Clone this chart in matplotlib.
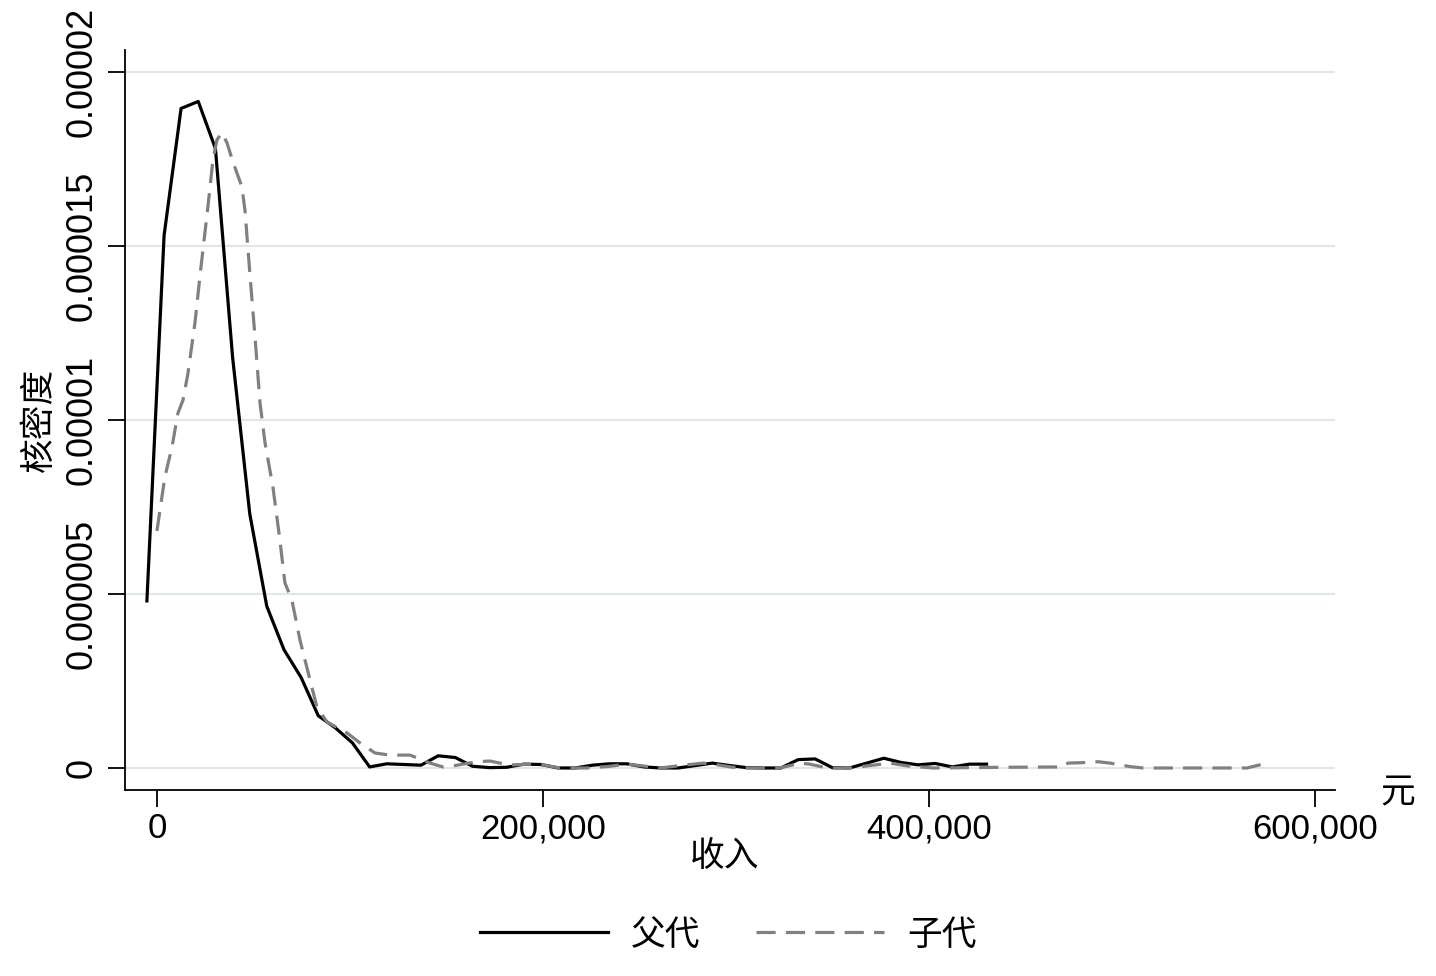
import numpy as np
import matplotlib
matplotlib.use('Agg')
import matplotlib.pyplot as plt
from matplotlib.ticker import FuncFormatter

plt.rcParams['font.family'] = ['Liberation Sans', 'Noto Sans CJK SC']

# 父代 kernel density (income in yuan, density in 1e-6)
father_x = [-5200, 3700, 12500, 21400, 30300, 39200, 48100, 56900, 65800, 74700,
            83600, 92500, 101300, 110200, 119100, 128000, 136800, 145700, 154600, 163500,
            172400, 181200, 190100, 199000, 207900, 216700, 225600, 234500, 243400, 252300,
            261100, 270000, 278900, 287800, 296700, 305500, 314400, 323300, 332200, 341000,
            349900, 358800, 367700, 376600, 385400, 394300, 403200, 412100, 420900, 429800]
father_y = [4.80, 15.3, 18.95, 19.15, 17.8, 11.8, 7.3, 4.65, 3.4, 2.6,
            1.5, 1.15, 0.72, 0.03, 0.12, 0.10, 0.08, 0.35, 0.30, 0.05,
            0.01, 0.02, 0.11, 0.10, 0.0, 0.0, 0.08, 0.12, 0.12, 0.03,
            0.0, 0.0, 0.07, 0.14, 0.07, 0.01, 0.0, 0.0, 0.24, 0.26,
            0.01, 0.0, 0.14, 0.28, 0.16, 0.09, 0.13, 0.03, 0.11, 0.11]

# 子代 kernel density
son_x = [0, 4100, 7800, 10900, 13500, 16100, 19700, 22300, 26400, 29000,
         31100, 33700, 36300, 39400, 44000, 45600, 48200, 50800, 53400, 56000,
         60100, 63700, 66300, 69900, 74100, 79300, 82900, 88100, 98400, 105200,
         113000, 120700, 131100, 134700, 141500, 148200, 154400, 165800, 172500, 177700,
         184500, 194800, 200000, 208800, 222800, 233200, 243500, 251800, 260600, 274600,
         282900, 288100, 298400, 307300, 322800, 333200, 338300, 347200, 359100, 379800,
         388600, 402100, 436800, 469400, 472000, 478200, 487600, 493800, 504100, 510900,
         564800, 575100]
son_y = [6.81, 8.36, 9.22, 10.2, 10.57, 11.35, 12.79, 14.14, 16.12, 17.47,
         18.05, 18.25, 17.96, 17.41, 16.7, 16.03, 14.17, 12.39, 10.49, 9.34,
         8.07, 6.55, 5.32, 4.83, 3.68, 2.53, 1.75, 1.32, 1.01, 0.72,
         0.43, 0.37, 0.37, 0.29, 0.14, 0.03, 0.07, 0.18, 0.2, 0.14,
         0.09, 0.11, 0.09, 0.0, 0.0, 0.04, 0.11, 0.06, 0.0, 0.09,
         0.14, 0.11, 0.02, 0.0, 0.0, 0.14, 0.11, 0.0, 0.0, 0.14,
         0.06, 0.0, 0.02, 0.03, 0.14, 0.15, 0.18, 0.14, 0.04, 0.0,
         0.0, 0.14]

x_ticks = [0, 200000, 400000, 600000]
y_ticks = [0, 0.000005, 0.00001, 0.000015, 0.00002]
y_tick_labels = ['0', '0.000005', '0.00001', '0.000015', '0.00002']

fig = plt.figure(figsize=(14.36, 9.76), dpi=100)
ax = fig.add_axes([0.087, 0.1906, 0.8427, 0.7582])

ax.plot(father_x, np.array(father_y) * 1e-6, color='black', lw=2.3, label='父代')
ax.plot(son_x, np.array(son_y) * 1e-6, color='#808080', lw=2.3,
        linestyle=(0, (6, 3.2)), label='子代')

ax.set_xlim(-16580, 610360)
ax.set_ylim(-0.632e-6, 20.63e-6)

ax.set_xticks(x_ticks)
ax.xaxis.set_major_formatter(FuncFormatter(lambda v, p: f'{int(v):,}'))
ax.set_yticks(y_ticks)
ax.set_yticklabels(y_tick_labels, rotation=90, va='center')

ax.tick_params(axis='both', labelsize=25, length=12, width=1.3, color='black')
ax.tick_params(axis='y', labelsize=26)
ax.tick_params(axis='x', pad=4)
ax.tick_params(axis='y', pad=6)

ax.grid(axis='y', color='#dde8e8', lw=1.6)
ax.set_axisbelow(True)
for s in ['top', 'right']:
    ax.spines[s].set_visible(False)
for s in ['left', 'bottom']:
    ax.spines[s].set_linewidth(1.3)

ax.set_ylabel('核密度', fontsize=25)
ax.yaxis.set_label_coords(-0.057, 0.5)
ax.set_xlabel('收入', fontsize=25)
ax.xaxis.label.set_va('center')
ax.xaxis.set_label_coords(0.496, -0.09)

ax.text(1.052, -0.004, '元', transform=ax.transAxes, fontsize=25,
        ha='center', va='center', clip_on=False)

fig.legend(loc='center', bbox_to_anchor=(0.507, 0.042), ncol=2, frameon=False,
           fontsize=25, handlelength=3.7, handletextpad=0.65, columnspacing=1.6)

fig.savefig('out.png', dpi=100)
